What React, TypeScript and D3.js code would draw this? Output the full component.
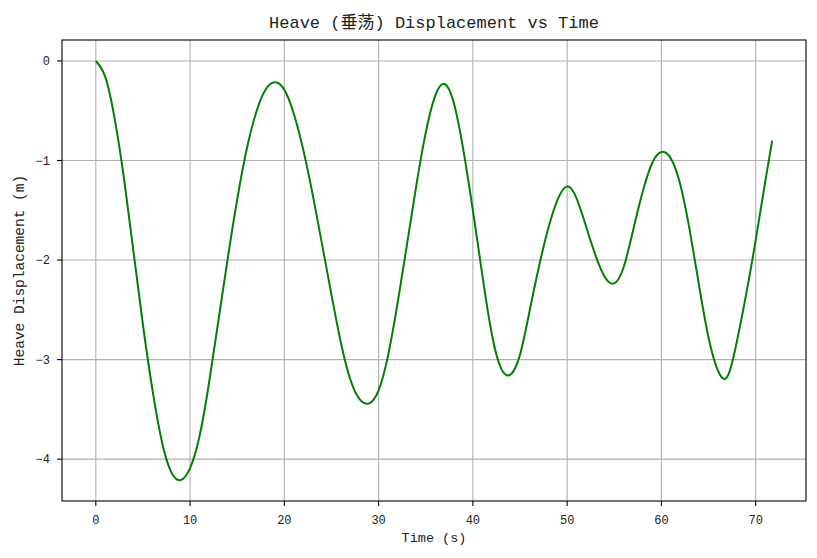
import React from "react";
import * as d3 from "d3";

// heave readings (time in s, displacement in m)
const timeS = [
  0, 1, 2, 3, 4, 5, 6, 7, 8, 9, 10, 11, 12, 13, 14, 15, 16, 17, 18, 19, 20,
  21, 22, 23, 24, 25, 26, 27, 28, 29, 30, 31, 32, 33, 34, 35, 36, 37, 38, 39,
  40, 41, 42, 43, 44, 45, 46, 47, 48, 49, 50, 51, 52, 53, 54, 55, 56, 57, 58,
  59, 60, 61, 62, 63, 64, 65, 66, 67, 68, 69, 70, 71, 71.75,
];
const heaveM = [
  0, -0.16, -0.58, -1.19, -1.92, -2.65, -3.3, -3.82, -4.13, -4.21, -4.09,
  -3.77, -3.24, -2.61, -1.98, -1.39, -0.89, -0.52, -0.29, -0.215, -0.29,
  -0.53, -0.89, -1.34, -1.84, -2.35, -2.83, -3.2, -3.4, -3.44, -3.31, -2.96,
  -2.44, -1.85, -1.25, -0.72, -0.35, -0.232, -0.43, -0.9, -1.5, -2.15, -2.74,
  -3.09, -3.15, -2.95, -2.52, -2.07, -1.68, -1.39, -1.26, -1.38, -1.66, -1.95,
  -2.17, -2.235, -2.07, -1.7, -1.32, -1.03, -0.915, -0.98, -1.24, -1.7, -2.26,
  -2.78, -3.11, -3.17, -2.82, -2.34, -1.8, -1.22, -0.8,
];
const xTicks = [0, 10, 20, 30, 40, 50, 60, 70];
const yTicks = [0, -1, -2, -3, -4];

const W = 817;
const H = 558;
const FONT = "'Liberation Mono', 'DejaVu Sans Mono', 'Noto Sans CJK SC', monospace";

export default function App() {
  const left = 62;
  const right = 806;
  const top = 40;
  const bottom = 501;

  // matplotlib-style 5% margins
  const [x0, x1] = d3.extent(timeS) as [number, number];
  const [y0, y1] = d3.extent(heaveM) as [number, number];
  const mx = (x1 - x0) * 0.05;
  const my = (y1 - y0) * 0.05;

  const x = d3.scaleLinear().domain([x0 - mx, x1 + mx]).range([left, right]);
  const y = d3.scaleLinear().domain([y0 - my, y1 + my]).range([bottom, top]);

  const pts = timeS.map((t, i) => [t, heaveM[i]] as [number, number]);
  const line = d3
    .line<[number, number]>()
    .x((d) => x(d[0]))
    .y((d) => y(d[1]))
    .curve(d3.curveNatural);

  const fmt = (v: number) => (v < 0 ? "\u2212" + Math.abs(v) : String(v));

  return (
    <svg
      width={W}
      height={H}
      style={{ position: "absolute", left: 0, top: 0, background: "#fff" }}
      fontFamily={FONT}
    >
      <rect x={0} y={0} width={W} height={H} fill="#fff" />

      {/* grid */}
      {xTicks.map((t) => (
        <line key={"gx" + t} x1={x(t)} x2={x(t)} y1={top} y2={bottom} stroke="#b0b0b0" strokeWidth={1.1} />
      ))}
      {yTicks.map((t) => (
        <line key={"gy" + t} x1={left} x2={right} y1={y(t)} y2={y(t)} stroke="#b0b0b0" strokeWidth={1.1} />
      ))}

      <path d={line(pts) ?? ""} fill="none" stroke="#008000" strokeWidth={2} strokeLinejoin="round" />

      {/* frame */}
      <rect x={left} y={top} width={right - left} height={bottom - top} fill="none" stroke="#000" strokeWidth={1.1} />

      {/* x ticks */}
      {xTicks.map((t) => (
        <g key={"xt" + t}>
          <line x1={x(t)} x2={x(t)} y1={bottom} y2={bottom + 5} stroke="#000" strokeWidth={1.1} />
          <text x={x(t)} y={524} textAnchor="middle" fontSize={12} fill="#222">
            {t}
          </text>
        </g>
      ))}

      {/* y ticks */}
      {yTicks.map((t) => (
        <g key={"yt" + t}>
          <line x1={left - 5} x2={left} y1={y(t)} y2={y(t)} stroke="#000" strokeWidth={1.1} />
          <text x={50} y={y(t)} dy="0.35em" textAnchor="end" fontSize={12} fill="#222">
            {fmt(t)}
          </text>
        </g>
      ))}

      <text x={(left + right) / 2} y={28} textAnchor="middle" fontSize={17} fill="#222">
        Heave (垂荡) Displacement vs Time
      </text>
      <text x={(left + right) / 2} y={542} textAnchor="middle" fontSize={13.5} fill="#222">
        Time (s)
      </text>
      <text
        transform={`translate(24, ${(top + bottom) / 2}) rotate(-90)`}
        textAnchor="middle"
        fontSize={14.5}
        fill="#222"
      >
        Heave Displacement (m)
      </text>
    </svg>
  );
}
